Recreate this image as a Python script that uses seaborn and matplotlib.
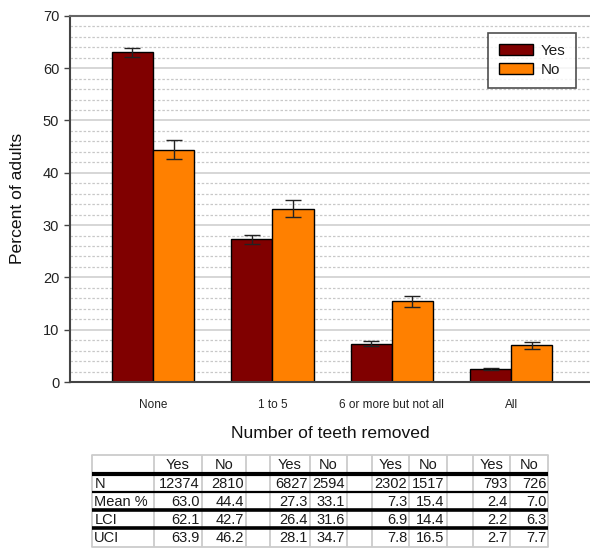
import matplotlib
matplotlib.use("Agg")
import matplotlib.pyplot as plt
from matplotlib.patches import Patch
from matplotlib.ticker import MultipleLocator
import seaborn as sns
import pandas as pd

# Survey results: percent of adults by number of teeth removed
categories = ["None", "1 to 5", "6 or more but not all", "All"]
groups = ["Yes", "No"]
mean_yes = [63.0, 27.3, 7.3, 2.4]
mean_no = [44.4, 33.1, 15.4, 7.0]
lci_yes = [62.1, 26.4, 6.9, 2.2]
lci_no = [42.7, 31.6, 14.4, 6.3]
uci_yes = [63.9, 28.1, 7.8, 2.7]
uci_no = [46.2, 34.7, 16.5, 7.7]
n_yes = [12374, 6827, 2302, 793]
n_no = [2810, 2594, 1517, 726]

colors = {"Yes": "#800000", "No": "#FF8000"}

sns.set_theme(style="white")
plt.rcParams["font.family"] = ["Liberation Sans", "DejaVu Sans"]
plt.rcParams["text.color"] = "#1a1a1a"

W, H = 590, 550
fig = plt.figure(figsize=(W / 100, H / 100), dpi=100)

# Plot area in pixel coordinates
ax_l, ax_r, ax_t, ax_b = 69.7, 590.0, 15.8, 382.0
ax = fig.add_axes([ax_l / W, 1 - ax_b / H, (ax_r - ax_l) / W, (ax_b - ax_t) / H])

df = pd.DataFrame({
    "removed": categories * 2,
    "group": ["Yes"] * 4 + ["No"] * 4,
    "pct": mean_yes + mean_no,
})

sns.barplot(data=df, x="removed", y="pct", hue="group", hue_order=groups,
            order=categories, palette=colors, width=0.69, errorbar=None,
            edgecolor="black", linewidth=1.0, saturation=1, ax=ax, legend=False)

# Confidence interval whiskers from LCI / UCI
for cont, means, lo, hi in zip(ax.containers, [mean_yes, mean_no],
                               [lci_yes, lci_no], [uci_yes, uci_no]):
    xs = [b.get_x() + b.get_width() / 2 for b in cont]
    yerr = [[m - l for m, l in zip(means, lo)], [h - m for m, h in zip(means, hi)]]
    ax.errorbar(xs, means, yerr=yerr, fmt="none", ecolor="#222222",
                elinewidth=1.0, capsize=5.5, capthick=1.0, zorder=5)

spacing = 119.4
first_center = 153.0
ax.set_xlim((ax_l - first_center) / spacing, (ax_r - first_center) / spacing)
ax.set_ylim(0, 70)
ax.yaxis.set_major_locator(MultipleLocator(10))
ax.yaxis.set_minor_locator(MultipleLocator(2))
ax.set_axisbelow(True)
ax.grid(which="major", axis="y", color="#cfcfcf", lw=1.2, ls="-")
ax.grid(which="minor", axis="y", color="#c8c8c8", lw=0.9, ls=(0, (2.0, 1.5)))
ax.grid(which="both", axis="x", visible=False)

for side in ["left", "bottom"]:
    ax.spines[side].set_color("#444444")
    ax.spines[side].set_linewidth(1.5)
ax.spines["top"].set_color("#666666")
ax.spines["top"].set_linewidth(1.5)
ax.spines["right"].set_visible(False)

ax.tick_params(axis="y", which="major", direction="out", length=4.5, width=1,
               color="#444444", labelsize=10.5, labelcolor="#222222", pad=3, left=True)
ax.tick_params(axis="y", which="minor", length=0)
ax.tick_params(axis="x", length=0, labelsize=8.5, labelcolor="#222222", pad=12)

ax.set_xlabel("Number of teeth removed", fontsize=12.6, color="#111111")
ax.xaxis.set_label_coords(0.5, -(433 - ax_b) / (ax_b - ax_t))
ax.xaxis.label.set_va("center")
ax.set_ylabel("Percent of adults", fontsize=12.6, color="#111111")
ax.yaxis.set_label_coords(-(ax_l - 17) / (ax_r - ax_l), 0.5)
ax.yaxis.label.set_va("center")

handles = [Patch(facecolor=colors[g], edgecolor="black", linewidth=1.0, label=g)
           for g in groups]
leg = ax.legend(handles=handles, loc="upper right",
                bbox_to_anchor=(576 / W, 1 - 33 / H), bbox_transform=fig.transFigure,
                fontsize=11, frameon=True, fancybox=False, shadow=False,
                handlelength=2.2, handleheight=0.75, handletextpad=0.5,
                borderpad=0.72, labelspacing=0.3, borderaxespad=0)
leg.get_frame().set_edgecolor("#222222")
leg.get_frame().set_linewidth(1.2)

# Summary table beneath the chart
tab = fig.add_axes([0, 0, 1, 1], zorder=-1)
tab.set_xlim(0, W)
tab.set_ylim(H, 0)
tab.axis("off")

col_x = [92.3, 154, 201.7, 245.7, 270, 310, 346.7, 371.7, 409, 446.7, 473.3, 510, 548.3]
row_y = [455, 474, 492, 510, 528, 547]
row_labels = ["N", "Mean %", "LCI", "UCI"]
series = [
    [f"{v}" for v in n_yes], [f"{v}" for v in n_no],
    [f"{v:.1f}" for v in mean_yes], [f"{v:.1f}" for v in mean_no],
    [f"{v:.1f}" for v in lci_yes], [f"{v:.1f}" for v in lci_no],
    [f"{v:.1f}" for v in uci_yes], [f"{v:.1f}" for v in uci_no],
]

grey = "#cccccc"
for x in col_x:
    tab.plot([x, x], [row_y[0], row_y[-1]], color=grey, lw=1.3, solid_capstyle="butt")
tab.plot([col_x[0], col_x[-1]], [row_y[0]] * 2, color=grey, lw=1.3)
tab.plot([col_x[0], col_x[-1]], [row_y[-1]] * 2, color=grey, lw=1.3)
for y, lw in zip(row_y[1:5], [3.0, 1.6, 2.6, 2.6]):
    tab.plot([col_x[0], col_x[-1]], [y, y], color="black", lw=lw, solid_capstyle="butt")

fs = 10.5
data_cols = [(1, 2), (4, 5), (7, 8), (10, 11)]
for cy, cn in data_cols:
    for ci, name in [(cy, "Yes"), (cn, "No")]:
        tab.text((col_x[ci] + col_x[ci + 1]) / 2, (row_y[0] + row_y[1]) / 2 + 0.5, name,
                 ha="center", va="center", fontsize=fs)
for ri, lab in enumerate(row_labels):
    yc = (row_y[ri + 1] + row_y[ri + 2]) / 2 + 0.5
    tab.text(col_x[0] + 2, yc, lab, ha="left", va="center", fontsize=fs)
    yes_vals = series[2 * ri]
    no_vals = series[2 * ri + 1]
    for gi, (cy, cn) in enumerate(data_cols):
        tab.text(col_x[cy + 1] - 2, yc, yes_vals[gi], ha="right", va="center", fontsize=fs)
        tab.text(col_x[cn + 1] - 2, yc, no_vals[gi], ha="right", va="center", fontsize=fs)

fig.savefig("out.png", dpi=100)
